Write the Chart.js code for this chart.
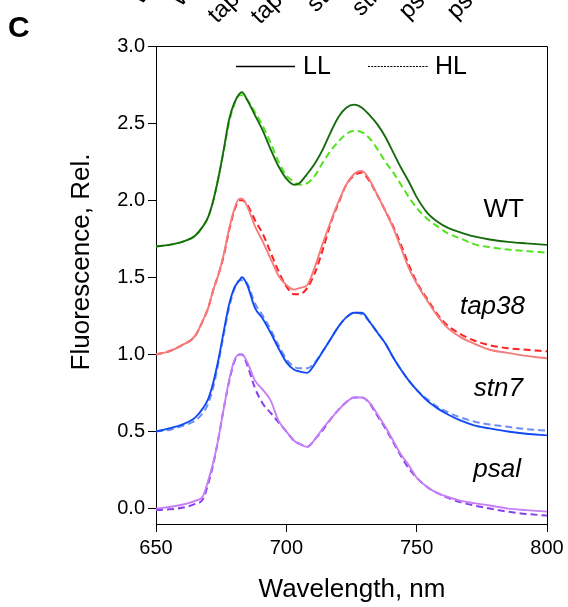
<!DOCTYPE html>
<html>
<head>
<meta charset="utf-8">
<script src="https://cdn.jsdelivr.net/npm/chart.js@4"></script>
<style>
  body { margin: 0; background: #fff; }
  canvas { display: block; }
</style>
</head>
<body>
<canvas id="spectra" width="568" height="607"></canvas>
<script>
// 77K fluorescence emission spectra, LL vs HL
const wavelength = [650, 655, 660, 665, 668, 670, 672, 674, 676, 678, 680, 682, 683, 685, 688, 691, 694, 697, 700, 703, 705, 708, 711, 714, 717, 720, 723, 726, 729, 732, 735, 738, 741, 744, 747, 750, 754, 758, 762, 767, 772, 778, 785, 792, 800];

const wtLL = [1.70, 1.71, 1.73, 1.77, 1.83, 1.89, 2.00, 2.15, 2.33, 2.52, 2.63, 2.69, 2.70, 2.65, 2.55, 2.45, 2.33, 2.22, 2.14, 2.10, 2.11, 2.17, 2.24, 2.33, 2.44, 2.54, 2.60, 2.62, 2.60, 2.55, 2.49, 2.41, 2.31, 2.21, 2.12, 2.02, 1.92, 1.86, 1.82, 1.79, 1.765, 1.745, 1.73, 1.72, 1.71];
const wtHL = [1.70, 1.71, 1.73, 1.77, 1.83, 1.89, 2.00, 2.15, 2.32, 2.50, 2.62, 2.68, 2.68, 2.65, 2.57, 2.48, 2.37, 2.25, 2.16, 2.12, 2.10, 2.11, 2.16, 2.245, 2.32, 2.38, 2.43, 2.45, 2.44, 2.40, 2.33, 2.25, 2.18, 2.10, 2.02, 1.95, 1.88, 1.83, 1.785, 1.75, 1.715, 1.695, 1.68, 1.67, 1.66];
const tap38LL = [1.00, 1.02, 1.06, 1.12, 1.22, 1.30, 1.42, 1.52, 1.65, 1.81, 1.94, 2.01, 2.01, 1.96, 1.83, 1.73, 1.62, 1.51, 1.45, 1.42, 1.43, 1.45, 1.57, 1.72, 1.86, 1.99, 2.10, 2.17, 2.19, 2.13, 2.03, 1.93, 1.82, 1.69, 1.56, 1.46, 1.35, 1.25, 1.17, 1.11, 1.07, 1.03, 1.01, 0.99, 0.975];
const tap38HL = [1.00, 1.02, 1.06, 1.12, 1.22, 1.30, 1.42, 1.52, 1.64, 1.80, 1.93, 2.00, 2.00, 1.97, 1.87, 1.78, 1.66, 1.54, 1.44, 1.39, 1.39, 1.43, 1.53, 1.68, 1.85, 1.98, 2.10, 2.16, 2.18, 2.12, 2.03, 1.93, 1.83, 1.71, 1.58, 1.47, 1.36, 1.26, 1.185, 1.13, 1.09, 1.06, 1.04, 1.03, 1.02];
const stn7LL = [0.50, 0.52, 0.545, 0.59, 0.65, 0.71, 0.82, 0.97, 1.15, 1.32, 1.43, 1.48, 1.50, 1.45, 1.30, 1.23, 1.14, 1.04, 0.95, 0.90, 0.89, 0.88, 0.94, 1.02, 1.10, 1.18, 1.24, 1.27, 1.27, 1.21, 1.14, 1.07, 0.98, 0.90, 0.83, 0.77, 0.70, 0.65, 0.61, 0.57, 0.54, 0.52, 0.50, 0.485, 0.475];
const stn7HL = [0.50, 0.51, 0.535, 0.57, 0.62, 0.68, 0.79, 0.95, 1.13, 1.30, 1.42, 1.48, 1.48, 1.46, 1.33, 1.25, 1.16, 1.06, 0.97, 0.92, 0.91, 0.91, 0.95, 1.02, 1.10, 1.18, 1.24, 1.27, 1.26, 1.21, 1.14, 1.07, 0.98, 0.90, 0.83, 0.77, 0.71, 0.66, 0.625, 0.59, 0.565, 0.545, 0.53, 0.515, 0.505];
const psalLL = [0.00, 0.01, 0.025, 0.05, 0.08, 0.18, 0.30, 0.46, 0.65, 0.83, 0.96, 1.00, 1.00, 0.95, 0.83, 0.77, 0.70, 0.57, 0.50, 0.44, 0.42, 0.40, 0.45, 0.52, 0.58, 0.64, 0.69, 0.72, 0.72, 0.685, 0.61, 0.53, 0.44, 0.35, 0.28, 0.20, 0.14, 0.10, 0.075, 0.05, 0.035, 0.02, 0.00, -0.01, -0.02];
const psalHL = [-0.01, -0.005, 0.005, 0.03, 0.06, 0.16, 0.29, 0.46, 0.65, 0.82, 0.95, 1.00, 1.00, 0.93, 0.78, 0.68, 0.62, 0.56, 0.50, 0.44, 0.42, 0.40, 0.45, 0.51, 0.58, 0.64, 0.69, 0.72, 0.72, 0.68, 0.60, 0.52, 0.43, 0.34, 0.26, 0.20, 0.14, 0.10, 0.07, 0.04, 0.02, 0.00, -0.02, -0.035, -0.045];

const lineLabels = ['WT', 'tap38', 'stn7', 'psal'];
const topLabels = ['WT', 'WT', 'tap38', 'tap38', 'stn7', 'stn7', 'psal', 'psal'];
const legendLabels = ['LL', 'HL'];

const FONT = '"Liberation Sans", Arial, sans-serif';

function series(values, color, dashed) {
    return {
        data: wavelength.map((w, i) => ({ x: w, y: values[i] })),
        borderColor: color,
        borderWidth: dashed ? 2 : 1.9,
        borderDash: dashed ? [7, 4] : [],
        pointRadius: 0,
        fill: false,
        cubicInterpolationMode: 'monotone'
    };
}

// draws the frame, legend, labels and titles
const decorations = {
    id: 'decorations',
    afterDraw(chart) {
        const ctx = chart.ctx;
        const a = chart.chartArea;
        ctx.save();

        // top + right frame lines
        ctx.strokeStyle = '#000';
        ctx.lineWidth = 1;
        ctx.beginPath();
        ctx.moveTo(a.left, a.top + 0.5);
        ctx.lineTo(a.right + 0.5, a.top + 0.5);
        ctx.lineTo(a.right + 0.5, a.bottom);
        ctx.stroke();

        // legend
        ctx.fillStyle = '#000';
        ctx.font = '25px ' + FONT;
        ctx.textBaseline = 'alphabetic';
        ctx.textAlign = 'left';
        ctx.lineWidth = 1.6;
        ctx.beginPath();
        ctx.moveTo(236, 66.5);
        ctx.lineTo(295, 66.5);
        ctx.stroke();
        ctx.fillText(legendLabels[0], 303, 74);
        ctx.lineWidth = 1;
        ctx.setLineDash([2, 1.2]);
        ctx.beginPath();
        ctx.moveTo(368, 66.5);
        ctx.lineTo(428, 66.5);
        ctx.stroke();
        ctx.setLineDash([]);
        ctx.fillText(legendLabels[1], 435, 74);

        // curve labels
        ctx.textAlign = 'right';
        ctx.font = '26px ' + FONT;
        ctx.fillText(lineLabels[0], 524, 217);
        ctx.font = 'italic 26px ' + FONT;
        ctx.fillText(lineLabels[1], 525, 314);
        ctx.fillText(lineLabels[2], 523, 396);
        ctx.fillText(lineLabels[3], 521, 477);

        // axis titles
        ctx.font = '26px ' + FONT;
        ctx.textAlign = 'center';
        ctx.fillText('Wavelength, nm', 352, 597);
        ctx.save();
        ctx.translate(89, 262);
        ctx.rotate(-Math.PI / 2);
        ctx.fillText('Fluorescence, Rel.', 0, 0);
        ctx.restore();

        // panel letter
        ctx.font = 'bold 30px ' + FONT;
        ctx.textAlign = 'left';
        ctx.fillText('C', 8, 37);

        // cut-off sample labels of the panel above
        const starts = [[140, 6], [180, 8], [217, 24], [260, 25], [316, 13], [361, 17], [408, 20], [456, 20]];
        ctx.font = '24px ' + FONT;
        topLabels.forEach((t, i) => {
            ctx.save();
            ctx.translate(starts[i][0], starts[i][1]);
            ctx.rotate(-Math.PI / 4);
            ctx.fillText(t, 0, 0);
            ctx.restore();
        });

        ctx.restore();
    }
};

const ctx = document.getElementById('spectra').getContext('2d');
const spectraChart = new Chart(ctx, {
    type: 'line',
    data: {
        datasets: [
            series(wtLL, '#176b0f', false),
            series(wtHL, '#52e31c', true),
            series(tap38LL, '#f47c7c', false),
            series(tap38HL, '#ff1f1f', true),
            series(stn7LL, '#0f4af2', false),
            series(stn7HL, '#6e8ef4', true),
            series(psalLL, '#c67ff4', false),
            series(psalHL, '#8840ee', true)
        ]
    },
    options: {
        responsive: false,
        animation: false,
        layout: { padding: { top: 46, right: 21, left: 0, bottom: 0 } },
        plugins: { legend: { display: false }, tooltip: { enabled: false } },
        scales: {
            x: {
                type: 'linear',
                min: 650,
                max: 800,
                afterFit: s => { s.height = 83; },
                border: { color: '#000', width: 1 },
                grid: { drawOnChartArea: false, tickLength: 8, color: '#000' },
                ticks: {
                    stepSize: 50,
                    padding: 4,
                    color: '#000',
                    font: { family: FONT, size: 20 }
                }
            },
            y: {
                min: -0.1,
                max: 3.0,
                afterFit: s => { s.width = 156; },
                border: { color: '#000', width: 1 },
                grid: { drawOnChartArea: false, tickLength: 8, color: '#000' },
                ticks: {
                    stepSize: 0.5,
                    includeBounds: false,
                    padding: 3,
                    color: '#000',
                    font: { family: FONT, size: 20 },
                    callback: v => v.toFixed(1)
                }
            }
        }
    },
    plugins: [decorations]
});
</script>
</body>
</html>
